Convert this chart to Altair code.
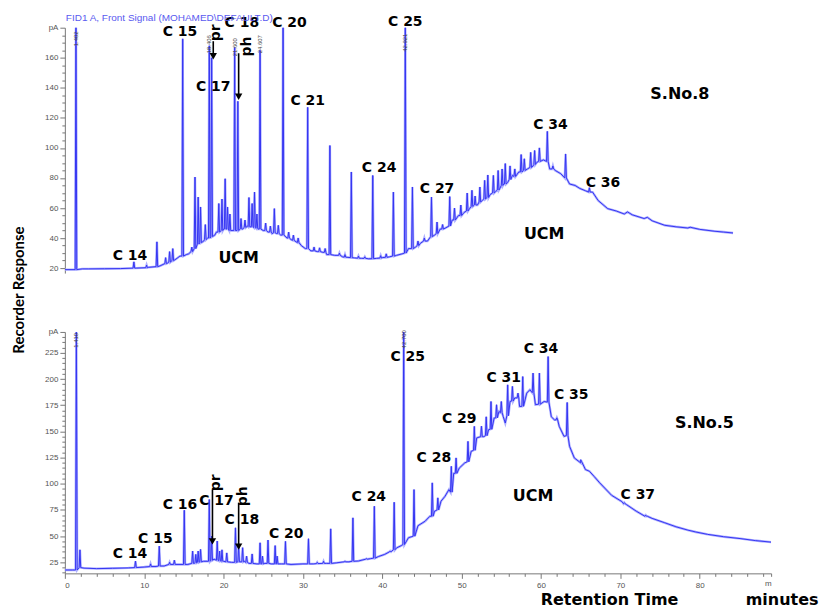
import altair as alt
import pandas as pd

# ---------------- S.No.8 (upper chromatogram) ----------------
top_base_t = [0.0, 0.9, 2.2, 3.0, 5.0, 7.0, 9.0, 10.5, 12.0, 13.0, 14.0, 14.5, 15.3, 15.6,
              17.5, 18.0, 18.9, 19.1, 20.0, 20.9, 21.2, 22.4, 23.0, 24.35, 25.0, 25.6,
              26.1, 26.7, 27.2, 28.0, 28.5, 29.0, 29.8, 30.3, 31.0, 31.8, 32.5, 33.0,
              34.0, 35.0, 36.5, 37.4, 38.3, 39.3, 40.0, 40.9, 41.8, 42.5, 43.3, 44.2,
              44.8, 45.7, 46.6, 47.3, 47.9, 48.8, 49.6, 50.3, 51.0, 52.0, 52.6, 53.6,
              54.3, 54.8, 55.3, 55.8, 56.4, 57.2, 58.3, 59.0, 59.5, 60.3, 61.1, 61.8,
              62.5, 63.6, 64.3, 64.9, 65.6, 66.5, 67.2, 68.4, 69.5, 70.5, 70.9, 71.5,
              73.0, 73.4, 74.0, 75.6, 77.0, 78.5, 78.8, 80.0, 81.8, 83.0, 84.2]
top_base_v = [19.0, 19.0, 19.5, 19.5, 19.6, 19.7, 20.0, 20.5, 21.5, 23.5, 26.0, 28.0, 29.0, 29.5,
              38.0, 40.0, 42.0, 44.0, 46.0, 45.0, 45.0, 46.0, 48.0, 46.0, 45.0, 44.0,
              43.0, 43.0, 42.0, 40.0, 39.0, 38.0, 35.0, 33.0, 31.5, 31.0, 30.5, 29.0,
              28.5, 27.5, 26.8, 26.5, 26.2, 26.5, 27.0, 27.5, 28.5, 29.5, 33.0, 34.0,
              36.5, 38.0, 42.0, 46.0, 46.5, 52.0, 55.0, 57.0, 59.6, 62.0, 65.0, 69.0,
              71.0, 72.9, 76.0, 77.0, 81.7, 84.0, 86.0, 88.0, 90.5, 92.0, 86.0, 85.0,
              82.8, 76.0, 75.0, 73.0, 71.5, 70.6, 65.0, 59.6, 58.0, 56.0, 57.4, 55.5,
              53.0, 53.8, 51.5, 48.5, 47.5, 46.7, 47.2, 45.8, 44.6, 44.0, 43.4]

top_peak_t = [1.4, 8.7, 10.3, 11.6, 12.7, 13.2, 13.6, 14.85, 16.0, 16.4, 16.8, 17.1, 17.7,
              18.2, 18.5, 19.4, 19.8, 20.2, 20.5, 20.8, 21.4, 21.8, 22.2, 22.7, 23.2,
              23.6, 23.9, 24.2, 24.6, 25.3, 25.9, 26.4, 26.9, 27.5, 28.2, 28.8, 29.4,
              30.6, 31.4, 32.1, 32.8, 33.4, 34.6, 35.3, 36.1, 37.0, 37.8, 38.8, 39.8,
              40.5, 41.4, 42.9, 43.8, 44.5, 45.3, 46.2, 46.9, 47.6, 48.5, 49.1, 49.9,
              50.7, 51.3, 51.7, 52.3, 52.9, 53.3, 54.0, 54.6, 55.1, 55.5, 56.1, 56.7,
              57.5, 57.9, 58.7, 59.2, 59.8, 60.8, 61.5, 63.1, 66.1]
top_peak_b = [19.0, 20.0, 20.3, 21.0, 23.0, 24.0, 25.0, 28.0, 31.0, 33.0, 36.0, 37.0, 39.0,
              40.0, 41.0, 44.0, 45.0, 46.0, 46.0, 45.0, 45.0, 45.0, 46.0, 47.0, 47.5,
              47.5, 47.0, 46.5, 46.0, 45.0, 44.0, 43.5, 43.0, 42.0, 40.0, 38.5, 37.0,
              33.0, 31.5, 31.0, 30.5, 29.0, 28.5, 27.3, 27.0, 26.6, 26.5, 26.3, 26.7,
              27.2, 28.0, 30.0, 33.0, 35.0, 38.0, 41.0, 43.0, 46.0, 48.0, 52.0, 55.0,
              58.0, 61.0, 62.0, 64.0, 66.0, 67.0, 70.0, 72.0, 75.0, 76.0, 79.0, 81.0,
              84.0, 85.0, 87.0, 89.0, 91.0, 91.0, 86.0, 80.0, 70.6]
top_peak_h = [190.0, 24.2, 22.0, 37.5, 27.0, 31.0, 33.0, 172.6, 34.0, 80.6, 67.3, 60.7, 49.0,
              168.0, 160.0, 63.0, 66.0, 79.5, 60.7, 56.0, 166.8, 131.0, 53.0, 52.0, 67.0,
              63.0, 70.6, 56.0, 165.0, 50.0, 48.0, 59.6, 48.5, 185.0, 44.0, 42.0, 40.0,
              127.0, 34.0, 33.5, 33.0, 101.6, 30.0, 29.0, 84.0, 28.0, 27.5, 81.7, 28.3,
              29.5, 70.6, 185.0, 74.0, 38.0, 40.0, 67.3, 50.7, 49.0, 67.6, 60.0, 62.0,
              70.0, 71.8, 68.0, 74.0, 78.4, 82.0, 81.7, 85.0, 86.0, 89.6, 88.0, 86.0,
              95.6, 92.8, 97.0, 98.3, 100.0, 111.0, 88.0, 96.0, 73.5]

top_labels = ["C 14", "C 15", "C 17", "C 18", "C 20", "C 21", "C 24", "C 25", "C 27", "C 34", "C 36"]
top_label_t = [8.2, 14.5, 18.7, 22.3, 28.3, 30.6, 39.6, 42.9, 46.9, 61.2, 67.8]
top_label_v = [28.0, 176.8, 140.8, 183.2, 183.4, 131.5, 86.4, 184.0, 72.4, 115.3, 76.6]

top_big_labels = ["UCM", "UCM", "S.No.8"]
top_big_t = [21.9, 60.4, 77.5]
top_big_v = [26.6, 43.0, 135.9]

top_rt_labels = ["1.402", "18.406", "21.600", "24.607", "42.921"]
top_rt_t = [1.4, 18.2, 21.4, 24.6, 42.9]
top_rt_v = [172.6, 169.0, 167.0, 169.0, 170.0]

top_arrow_names = ["pr", "ph"]
top_arrow_t = [18.7, 21.9]
top_arrow_from = [171.0, 163.0]
top_arrow_to = [161.0, 134.0]
top_arrow_text_t = [19.1, 22.9]
top_arrow_text_v = [176.6, 167.4]

# ---------------- S.No.5 (lower chromatogram) ----------------
bot_base_t = [0.0, 1.0, 2.4, 4.0, 6.0, 8.0, 10.0, 11.5, 12.5, 14.0, 15.5, 16.3, 17.5, 18.8,
              20.0, 21.0, 22.6, 23.2, 24.2, 25.2, 26.0, 27.3, 28.5, 30.0, 31.3, 33.0,
              34.2, 35.8, 37.0, 38.5, 39.5, 40.3, 41.2, 41.8, 42.4, 43.3, 44.5, 45.4,
              46.0, 46.6, 47.4, 47.9, 48.4, 49.0, 49.7, 50.4, 51.2, 51.9, 52.8, 53.4,
              54.1, 54.7, 55.25, 55.5, 56.1, 56.7, 57.3, 58.2, 58.6, 59.3, 60.4, 61.3,
              61.7, 62.3, 62.9, 63.6, 64.2, 65.0, 65.6, 66.1, 66.7, 67.4, 68.9, 70.2,
              70.8, 72.0, 73.4, 74.0, 75.6, 77.0, 78.5, 79.5, 81.0, 83.0, 85.2, 87.0, 89.0]
bot_base_v = [17.7, 17.7, 19.5, 19.0, 19.3, 19.7, 20.5, 21.0, 21.5, 23.0, 23.0, 24.0, 26.0, 28.0,
              26.0, 25.0, 26.0, 24.0, 23.5, 24.0, 23.5, 23.5, 23.0, 23.5, 23.5, 24.0,
              24.5, 25.5, 26.3, 28.5, 30.5, 32.6, 35.8, 38.8, 41.0, 48.5, 60.0, 64.3,
              69.0, 73.9, 83.4, 88.0, 94.5, 110.0, 115.0, 120.0, 131.0, 143.8, 145.0, 151.7,
              162.8, 169.0, 164.0, 158.0, 178.6, 182.0, 173.8, 186.6, 189.8, 175.5, 178.6, 164.0,
              161.0, 154.8, 145.3, 135.8, 124.7, 123.0, 113.6, 112.0, 107.0, 100.9, 89.0, 83.0,
              80.0, 73.9, 69.0, 67.0, 62.8, 59.0, 55.8, 54.0, 51.7, 49.5, 47.6, 45.8, 44.3]

bot_peak_t = [1.45, 1.9, 8.9, 10.8, 11.9, 13.2, 13.8, 15.05, 16.1, 16.5, 16.8, 17.1, 18.2,
              18.5, 19.2, 19.5, 19.8, 20.4, 21.5, 21.9, 22.4, 22.9, 23.6, 24.6, 24.9,
              25.6, 26.5, 26.75, 27.8, 30.7, 31.8, 32.6, 33.5, 35.3, 36.3, 38.0, 39.0,
              41.0, 41.5, 42.7, 44.0, 46.3, 47.0, 48.7, 49.3, 50.8, 51.6, 52.5, 53.1,
              53.7, 54.4, 55.0, 55.8, 56.4, 57.1, 57.7, 59.0, 59.8, 60.9, 62.0, 63.3,
              65.1, 70.5, 73.2]
bot_peak_b = [17.7, 20.0, 20.0, 21.0, 21.5, 23.0, 23.0, 23.0, 24.0, 24.5, 25.0, 25.5, 26.0,
              27.0, 27.0, 26.5, 26.0, 25.5, 25.0, 25.5, 25.5, 25.0, 24.0, 23.5, 23.5,
              24.0, 23.5, 23.5, 23.5, 23.5, 23.8, 24.0, 24.0, 25.5, 26.0, 28.0, 29.0,
              35.0, 37.0, 42.0, 50.0, 69.0, 75.0, 92.0, 110.0, 121.0, 132.0, 145.0, 146.0,
              152.0, 163.0, 168.0, 165.0, 179.0, 182.0, 174.0, 187.0, 176.0, 178.0, 161.0, 146.0,
              120.0, 81.0, 69.0]
bot_peak_h = [255.0, 37.0, 26.2, 23.5, 40.5, 25.0, 27.0, 74.8, 35.8, 32.6, 35.8, 37.4, 85.0,
              50.0, 45.3, 35.8, 37.0, 34.0, 58.0, 40.0, 39.0, 31.0, 33.0, 43.7, 31.0,
              46.3, 41.0, 31.0, 45.0, 47.6, 25.0, 26.0, 57.0, 26.0, 67.5, 28.5, 78.6,
              35.8, 82.4, 255.0, 94.5, 100.9, 86.6, 116.7, 124.7, 140.5, 154.8, 155.0, 164.0,
              178.6, 175.5, 178.6, 194.5, 193.0, 186.6, 202.4, 205.7, 205.7, 221.5, 163.0, 177.7,
              121.5, 82.0, 70.0]

bot_labels = ["C 14", "C 15", "C 16", "C 17", "C 18", "C 20", "C 24", "C 25", "C 28",
              "C 29", "C 31", "C 34", "C 35", "C 37"]
bot_label_t = [8.2, 11.4, 14.5, 19.1, 22.3, 27.9, 38.3, 43.2, 46.5, 49.7, 55.3, 60.0, 63.8, 72.2]
bot_label_v = [32.6, 46.9, 80.2, 84.0, 65.0, 51.7, 87.2, 221.5, 124.7, 162.0, 200.9, 228.8, 184.4, 89.1]

bot_big_labels = ["UCM", "S.No.5"]
bot_big_t = [59.0, 80.6]
bot_big_v = [88.2, 158.0]

bot_rt_labels = ["1.410", "42.700"]
bot_rt_t = [1.45, 42.7]
bot_rt_v = [237.0, 238.0]

bot_arrow_names = ["pr", "ph"]
bot_arrow_t = [18.6, 21.9]
bot_arrow_from = [94.5, 82.0]
bot_arrow_to = [45.0, 40.0]
bot_arrow_text_t = [19.0, 22.5]
bot_arrow_text_v = [101.0, 88.0]

# axis ticks
x_ticks = list(range(0, 89, 2)) + [89]
top_y_ticks = list(range(20, 180, 5)) + [180]
bot_y_ticks = list(range(15, 245, 5)) + [245]

TRACE = "#3535f2"
GLOW = "#aeb0ff"
LBL_FONT = "DejaVu Sans"


def build_trace(bt, bv, pt, pb, ph, w=0.1):
    pts = list(zip(bt, bv))
    for t, b, h in zip(pt, pb, ph):
        pts += [(t - w, b), (t, h), (t + w, b)]
    pts.sort()
    return pd.DataFrame(pts, columns=["t", "v"])


W = 708
xscale = alt.Scale(domain=[0, 89], nice=False, zero=False)


def panel(trace, yscale, yticks, ymax, major, labels, big, rts, arrows, height, show_x):
    if show_x:
        xaxis = alt.Axis(values=x_ticks, title=None, grid=False, labelOverlap=False,
                         labelExpr="datum.value == 89 ? 'm' : (datum.value % 10 == 0 ? datum.label : '')",
                         tickSize={"condition": {"test": "datum.value % 10 == 0", "value": 5}, "value": 3},
                         labelFont="Liberation Sans", labelFontSize=8, labelColor="#555555",
                         tickColor="#777777", domainColor="#777777", labelPadding=3)
    else:
        xaxis = None
    yaxis = alt.Axis(values=yticks, title=None, grid=False, labelOverlap=False,
                     labelExpr=f"datum.value == {ymax} ? 'pA' : (datum.value % {major} == 0 ? datum.label : '')",
                     tickSize={"condition": {"test": f"datum.value % {major} == 0 || datum.value == {ymax}", "value": 5}, "value": 3},
                     labelFont="Liberation Sans", labelFontSize=8, labelColor="#555555",
                     tickColor="#777777", domainColor="#777777", labelPadding=2)

    X = alt.X("t:Q", scale=xscale, axis=xaxis)
    Y = alt.Y("v:Q", scale=yscale, axis=yaxis)
    base = alt.Chart(trace)
    glow = base.mark_line(color=GLOW, strokeWidth=2.4, clip=True).encode(x=X, y=Y)
    line = base.mark_line(color=TRACE, strokeWidth=1, clip=True).encode(x=X, y=Y)

    lab = alt.Chart(labels).mark_text(font=LBL_FONT, fontWeight="bold", fontSize=14, color="black").encode(
        x=X, y=Y, text="s:N")
    bigt = alt.Chart(big).mark_text(font=LBL_FONT, fontWeight="bold", fontSize=16, color="black").encode(
        x=X, y=Y, text="s:N")
    rt = alt.Chart(rts).mark_text(font="Liberation Sans", fontSize=6, color="#444444", angle=270).encode(
        x=X, y=Y, text="s:N")
    shaft = alt.Chart(arrows).mark_rule(color="black", strokeWidth=1.6).encode(
        x=X, y=alt.Y("v1:Q", scale=yscale, axis=yaxis), y2="v2:Q")
    head = alt.Chart(arrows).mark_point(shape="triangle-down", filled=True, color="black",
                                        size=55, opacity=1).encode(
        x=X, y=alt.Y("v2:Q", scale=yscale, axis=yaxis))
    atext = alt.Chart(arrows).mark_text(font=LBL_FONT, fontWeight="bold", fontSize=14,
                                        color="black", angle=270).encode(
        x=alt.X("tt:Q", scale=xscale, axis=xaxis), y=alt.Y("tv:Q", scale=yscale, axis=yaxis), text="s:N")
    return alt.layer(glow, line, rt, lab, bigt, shaft, head, atext).properties(width=W, height=height)


def df_labels(s, t, v):
    return pd.DataFrame({"s": s, "t": t, "v": v})


def df_arrows(s, t, v1, v2, tt, tv):
    return pd.DataFrame({"s": s, "t": t, "v1": v1, "v2": v2, "tt": tt, "tv": tv})


top_trace = build_trace(top_base_t, top_base_v, top_peak_t, top_peak_b, top_peak_h)
bot_trace = build_trace(bot_base_t, bot_base_v, bot_peak_t, bot_peak_b, bot_peak_h)

top = panel(top_trace, alt.Scale(domain=[16.7, 180], nice=False, zero=False), top_y_ticks, 180, 20,
            df_labels(top_labels, top_label_t, top_label_v),
            df_labels(top_big_labels, top_big_t, top_big_v),
            df_labels(top_rt_labels, top_rt_t, top_rt_v),
            df_arrows(top_arrow_names, top_arrow_t, top_arrow_from, top_arrow_to, top_arrow_text_t, top_arrow_text_v),
            246, False)

fid = alt.Chart(pd.DataFrame({"s": ["FID1 A, Front Signal (MOHAMED\\DEFAULT.D)"]})).mark_text(
    font="Liberation Sans", fontSize=10, color="#5a5af0", align="left", baseline="middle").encode(
    x=alt.value(1), y=alt.value(-10), text="s:N")
ytitle = alt.Chart(pd.DataFrame({"s": ["Recorder Response"]})).mark_text(
    font="Lato", fontWeight="bold", fontSize=15, color="black", angle=270).encode(
    x=alt.value(-46), y=alt.value(263), text="s:N")
top = alt.layer(top, fid, ytitle)

bottom = panel(bot_trace, alt.Scale(domain=[14.5, 245], nice=False, zero=False), bot_y_ticks, 245, 25,
               df_labels(bot_labels, bot_label_t, bot_label_v),
               df_labels(bot_big_labels, bot_big_t, bot_big_v),
               df_labels(bot_rt_labels, bot_rt_t, bot_rt_v),
               df_arrows(bot_arrow_names, bot_arrow_t, bot_arrow_from, bot_arrow_to, bot_arrow_text_t, bot_arrow_text_v),
               242, True)

xt1 = alt.Chart(pd.DataFrame({"s": ["Retention Time"]})).mark_text(
    font=LBL_FONT, fontWeight="bold", fontSize=16, color="black").encode(
    x=alt.value(546), y=alt.value(269), text="s:N")
xt2 = alt.Chart(pd.DataFrame({"s": ["minutes"]})).mark_text(
    font=LBL_FONT, fontWeight="bold", fontSize=16, color="black").encode(
    x=alt.value(719), y=alt.value(269), text="s:N")
bottom = alt.layer(bottom, xt1, xt2)

chart = alt.vconcat(top, bottom, spacing=59, bounds="flush").properties(
    padding={"left": 4, "top": 4, "right": 0, "bottom": 0}
).configure_view(stroke=None).configure_axis(labelOverlap=False, labelBound=False)

chart.save("out.html", embed_options={"renderer": "svg", "actions": False})
